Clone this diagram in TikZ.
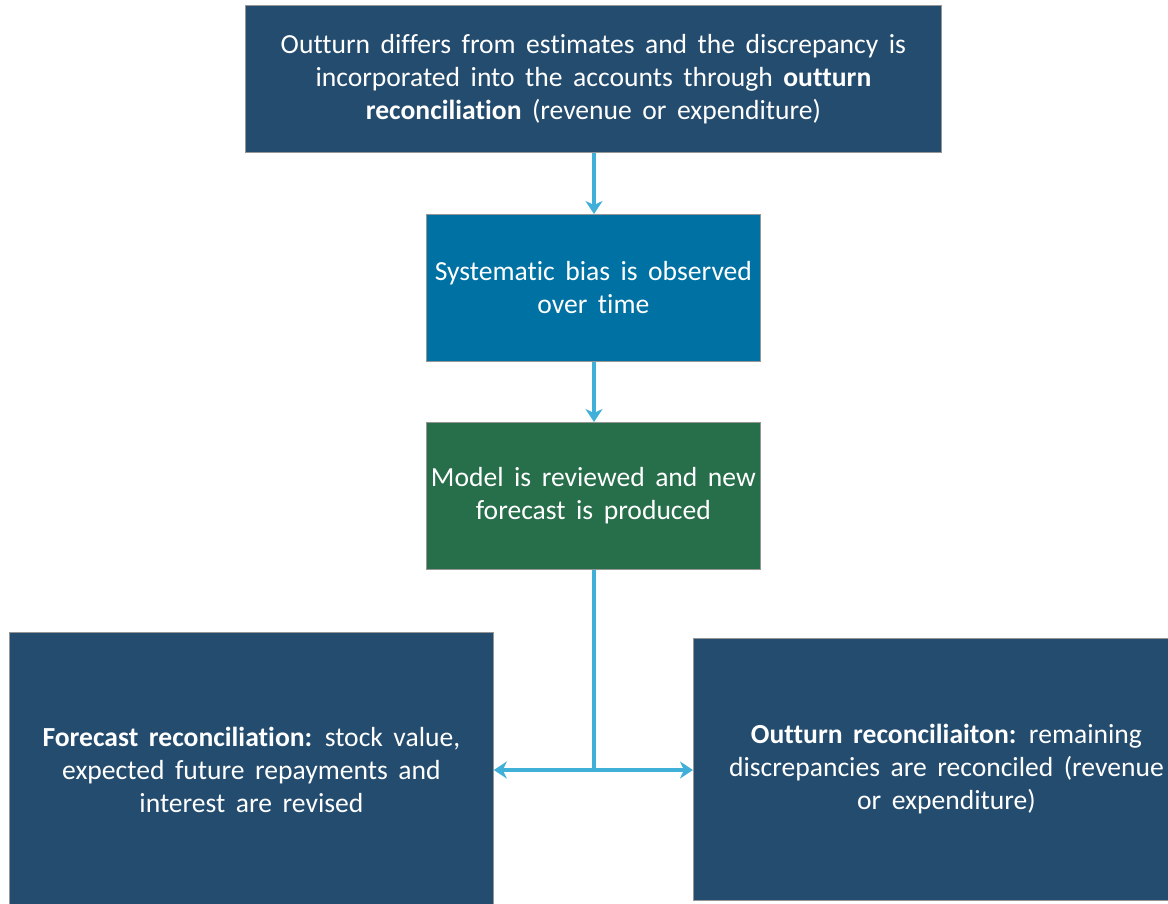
\documentclass[tikz,border=0pt]{standalone}
\usepackage{fontspec}
\setmainfont{Carlito}[RawFeature={-liga;-calt;-dlig;-clig}]
\usetikzlibrary{arrows.meta}
\definecolor{navy}{RGB}{36,76,110}
\definecolor{teal}{RGB}{0,113,163}
\definecolor{forest}{RGB}{39,110,74}
\definecolor{sky}{RGB}{64,176,216}
\definecolor{edge}{RGB}{150,150,150}
\newcommand{\boxfont}{\fontsize{27.6}{33}\selectfont\spaceskip=0.38em plus 0.1em minus 0.05em\relax}
\newcommand{\tix}{t\kern0pt i}
\tikzset{
  box/.style={draw=edge, line width=0.8pt, anchor=north west, inner sep=0pt,
    text=white, align=center, font=\boxfont},
  arr/.style={draw=sky, line width=4pt, -{Stealth[length=13pt,width=17pt,inset=4pt]}}
}
\begin{document}
\begin{tikzpicture}[x=1pt,y=-1pt]
\useasboundingbox (0,0) rectangle (1168,903);
\node[box, fill=navy, minimum width=696pt, minimum height=147pt] (top) at (245,5)
  {Outturn differs from es\tix mates and the discrepancy is\\
   incorporated into the accounts through \textbf{outturn}\\
   \textbf{reconcilia\tix on} (revenue or expenditure)};
\node[box, fill=teal, minimum width=334pt, minimum height=147pt] (bias) at (426,214)
  {Systema\tix c bias is observed\\ over \tix me};
\node[box, fill=forest, minimum width=334pt, minimum height=147pt] (model) at (426,422)
  {Model is reviewed and new\\ forecast is produced};
\node[box, fill=navy, minimum width=484pt, minimum height=276pt] (fr) at (9,632)
  {\textbf{Forecast reconcilia\tix on:} stock value,\\
   expected future repayments and\\
   interest are revised};
\node[box, fill=navy, minimum width=506pt, minimum height=262pt] (or) at (693,638)
  {\textbf{Outturn reconciliaiton:} remaining\\
   discrepancies are reconciled (revenue\\
   or expenditure)};
\coordinate (j) at (594,770);
\draw[arr] (top.south -| 594,0) -- (bias.north -| 594,0);
\draw[arr] (bias.south -| 594,0) -- (model.north -| 594,0);
\draw[draw=sky, line width=4pt] (model.south -| 594,0) -- (j);
\draw[arr] (j) -- (fr.east |- j);
\draw[arr] (j) -- (or.west |- j);
\end{tikzpicture}
\end{document}
